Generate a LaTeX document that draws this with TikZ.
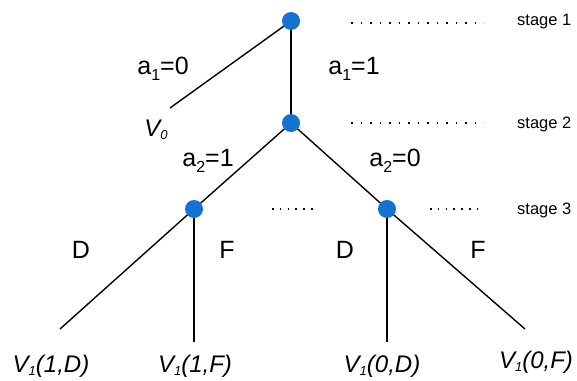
\documentclass[tikz,border=0pt]{standalone}
\usepackage{fontspec}
\setmainfont{Liberation Sans}
\usetikzlibrary{backgrounds}
\definecolor{dotblue}{RGB}{20,114,208}
\tikzset{
  dot/.style={circle,fill=dotblue,inner sep=0pt,minimum size=18pt},
  edge/.style={line width=1.4pt,black},
  lbl/.style={font=\fontsize{25}{27}\selectfont,inner sep=0pt},
  vlbl/.style={font=\fontsize{24}{26}\selectfont\itshape,inner sep=0pt},
  stagelbl/.style={font=\fontsize{16.5}{18}\selectfont,inner sep=0pt,anchor=west},
  dotline/.style={line width=1.6pt,dash pattern=on 1.6pt off 7.9pt},
  dotlineb/.style={line width=1.6pt,dash pattern=on 1.6pt off 6.2pt}
}
\newcommand{\sbs}[1]{\raisebox{-0.22em}{\fontsize{16}{16}\selectfont #1}}
\newcommand{\vsbs}[1]{\raisebox{-0.15em}{\fontsize{13}{13}\selectfont #1}}
\begin{document}
\begin{tikzpicture}[x=1pt,y=-1pt]
\useasboundingbox (0,0) rectangle (577,380);
% tree nodes
\node[dot] (r) at (291,21) {};
\node[dot] (n2) at (291,123) {};
\node[dot] (n3l) at (194,209) {};
\node[dot] (n3r) at (387,209) {};
\coordinate (e0) at (170,108);
\coordinate (eld) at (60,329);
\coordinate (elf) at (194,342);
\coordinate (erd) at (387,342);
\coordinate (erf) at (525,329);
% edges
\begin{pgfonlayer}{background}
\draw[edge] (r.center) -- (e0);
\draw[edge] (r.center) -- (n2.center);
\draw[edge] (n2.center) -- (n3l.center);
\draw[edge] (n2.center) -- (n3r.center);
\draw[edge] (n3l.center) -- (eld);
\draw[edge] (n3l.center) -- (elf);
\draw[edge] (n3r.center) -- (erd);
\draw[edge] (n3r.center) -- (erf);
\end{pgfonlayer}
% edge labels
\node[lbl] (la10) at (163,69) {a\sbs{1}=0};
\node[lbl] (la11) at (354,69) {a\sbs{1}=1};
\node[vlbl] (lv0) at (156,130) {V\vsbs{0}};
\node[lbl] (la21) at (208,161) {a\sbs{2}=1};
\node[lbl] (la20) at (395,161) {a\sbs{2}=0};
\node[lbl] (ld1) at (81,250) {D};
\node[lbl] (lf1) at (227,250) {F};
\node[lbl] (ld2) at (345,250) {D};
\node[lbl] (lf2) at (478,250) {F};
% leaf labels
\node[vlbl] (v1d) at (51,366) {V\vsbs{1}(1,D)};
\node[vlbl] (v1f) at (195,366) {V\vsbs{1}(1,F)};
\node[vlbl] (v0d) at (382,366) {V\vsbs{1}(0,D)};
\node[vlbl] (v0f) at (536,362) {V\vsbs{1}(0,F)};
% stages
\node[stagelbl] (s1) at (517,22) {stage 1};
\node[stagelbl] (s2) at (517,124) {stage 2};
\node[stagelbl] (s3) at (517,210) {stage 3};
\coordinate (d1a) at (351,23); \coordinate (d1b) at (484,23);
\coordinate (d2a) at (351,123); \coordinate (d2b) at (484,123);
\coordinate (d3a) at (272,209); \coordinate (d3b) at (314,209);
\coordinate (d4a) at (430,209); \coordinate (d4b) at (479,209);
\draw[dotline] (d1a) -- (d1b);
\draw[dotline] (d2a) -- (d2b);
\draw[dotlineb] (d3a) -- (d3b);
\draw[dotlineb] (d4a) -- (d4b);
\end{tikzpicture}
\end{document}
